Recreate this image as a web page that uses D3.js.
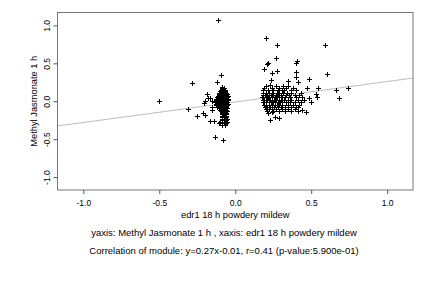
<!DOCTYPE html>
<html><head><meta charset="utf-8">
<script src="https://cdn.jsdelivr.net/npm/d3@7"></script>
<style>body{margin:0;background:#fff}svg{display:block}text{font-family:"Liberation Sans",Arial,sans-serif;fill:#000}</style>
</head><body><div id="c"></div>
<script>
const xTicks=[-1.0,-0.5,0.0,0.5,1.0];
const yTicks=[-1.0,-0.5,0.0,0.5,1.0];
const tickLabels=["-1.0","-0.5","0.0","0.5","1.0"];
const fitSlope=0.27, fitIntercept=-0.01;
const xLabel="edr1 18 h powdery mildew";
const yLabel="Methyl Jasmonate 1 h";
const caption1="yaxis: Methyl Jasmonate 1 h , xaxis: edr1 18 h powdery mildew";
const caption2="Correlation of module: y=0.27x-0.01, r=0.41 (p-value:5.900e-01)";

// cluster near x≈-0.08: rows [y, [x...]]
const cluster1Rows=[
[0.19,[-0.085]],[0.17,[-0.09,-0.075]],[0.15,[-0.095,-0.08,-0.07]],
[0.13,[-0.10,-0.085,-0.075,-0.065]],[0.11,[-0.105,-0.09,-0.08,-0.07,-0.06]],
[0.09,[-0.11,-0.095,-0.085,-0.075,-0.065,-0.055]],
[0.07,[-0.115,-0.10,-0.09,-0.08,-0.07,-0.06,-0.05]],
[0.05,[-0.12,-0.105,-0.095,-0.085,-0.075,-0.065,-0.055]],
[0.03,[-0.125,-0.11,-0.10,-0.09,-0.08,-0.07,-0.06,-0.05]],
[0.01,[-0.13,-0.115,-0.10,-0.09,-0.08,-0.07,-0.06,-0.05]],
[-0.01,[-0.135,-0.12,-0.105,-0.095,-0.085,-0.075,-0.065,-0.055]],
[-0.03,[-0.13,-0.115,-0.10,-0.09,-0.08,-0.07,-0.06,-0.05]],
[-0.05,[-0.125,-0.11,-0.095,-0.085,-0.075,-0.065,-0.055]],
[-0.07,[-0.12,-0.105,-0.09,-0.08,-0.07,-0.06]],
[-0.09,[-0.11,-0.095,-0.085,-0.075,-0.065,-0.055]],
[-0.11,[-0.10,-0.09,-0.08,-0.07,-0.06]],
[-0.13,[-0.095,-0.085,-0.075,-0.065,-0.055]],
[-0.15,[-0.09,-0.08,-0.07,-0.06]],[-0.17,[-0.09,-0.075,-0.06]],
[-0.19,[-0.085,-0.07,-0.06]],[-0.21,[-0.09,-0.075,-0.06]],
[-0.23,[-0.085,-0.07,-0.055]],[-0.25,[-0.09,-0.075,-0.06]],
[-0.27,[-0.10,-0.085,-0.07,-0.055]],[-0.29,[-0.11,-0.09,-0.075,-0.06]],
[-0.31,[-0.085,-0.065]]
];
// cluster near x≈0.28
const cluster2Rows=[
[0.20,[0.205,0.27,0.315,0.35]],[0.175,[0.19,0.245,0.29,0.335,0.38]],
[0.145,[0.18,0.215,0.25,0.28,0.305,0.32,0.365,0.40]],
[0.115,[0.185,0.20,0.225,0.24,0.275,0.29,0.315,0.34,0.37,0.43]],
[0.085,[0.18,0.195,0.21,0.235,0.25,0.265,0.28,0.30,0.335,0.355,0.39,0.42]],
[0.055,[0.175,0.20,0.215,0.225,0.24,0.26,0.275,0.29,0.31,0.33,0.36,0.40,0.44]],
[0.02,[0.18,0.19,0.21,0.23,0.245,0.255,0.27,0.285,0.30,0.32,0.345,0.37,0.41,0.45]],
[-0.01,[0.185,0.20,0.22,0.235,0.25,0.26,0.28,0.295,0.31,0.335,0.36,0.39,0.43]],
[-0.045,[0.19,0.205,0.22,0.24,0.26,0.275,0.29,0.31,0.345,0.38,0.42]],
[-0.075,[0.195,0.21,0.23,0.255,0.28,0.30,0.33,0.37,0.41]],
[-0.10,[0.20,0.225,0.24,0.27,0.31,0.35,0.39]],
[-0.13,[0.21,0.25,0.29,0.33,0.37]]
];
const outlierX=[-0.50,-0.285,-0.31,-0.25,-0.21,-0.196,-0.185,-0.168,-0.178,-0.20,-0.205,-0.168,-0.14,-0.133,-0.08,-0.113,-0.095,-0.117,-0.155,-0.155,-0.15,
0.20,0.273,0.59,0.266,0.216,0.207,0.409,0.40,0.192,0.275,0.242,0.398,0.40,0.604,0.486,0.345,0.413,0.234,0.23,0.47,0.545,0.66,0.74,0.683,0.53,0.536,0.50,0.486,0.44,0.464,0.398,0.413,0.229,0.262,0.289,0.216,0.24];
const outlierY=[0.00,0.24,-0.10,-0.20,-0.15,-0.18,0.09,0.046,0.04,0.00,-0.02,-0.26,-0.26,-0.47,-0.51,1.07,0.345,0.25,0.00,-0.08,-0.12,
0.84,0.74,0.74,0.57,0.51,0.49,0.53,0.51,0.425,0.40,0.37,0.385,0.32,0.36,0.29,0.27,0.25,0.28,0.21,0.18,0.18,0.15,0.17,0.04,0.10,0.05,-0.015,0.046,-0.115,-0.14,-0.07,-0.13,-0.25,-0.205,-0.225,-0.16,-0.147];

const points=[];
[cluster1Rows,cluster2Rows].forEach(rows=>rows.forEach(([y,xs])=>xs.forEach(x=>points.push([x,y]))));
outlierX.forEach((x,i)=>points.push([x,outlierY[i]]));

const W=432,H=288;
const L=57.5,R=413,T=12.5,B=190;
const svg=d3.select("#c").append("svg").attr("width",W).attr("height",H);
const x=d3.scaleLinear().domain([-1.17,1.17]).range([L,R]);
const y=d3.scaleLinear().domain([-1.17,1.17]).range([B,T]);

// fit line
const xd=x.domain();
svg.append("line").attr("x1",x(xd[0])).attr("x2",x(xd[1]))
 .attr("y1",y(fitSlope*xd[0]+fitIntercept)).attr("y2",y(fitSlope*xd[1]+fitIntercept))
 .attr("stroke","#bdbdbd").attr("stroke-width",1);

// points
svg.append("g").selectAll("path").data(points).join("path")
 .attr("d",d=>{const px=Math.round(x(d[0]))+0.5,py=Math.round(y(d[1]))+0.5;return `M${px-2.5},${py}H${px+2.5}M${px},${py-2.5}V${py+2.5}`;})
 .attr("stroke","#000").attr("stroke-width",1).attr("fill","none");

// frame
svg.append("rect").attr("x",L).attr("y",T).attr("width",R-L).attr("height",B-T)
 .attr("fill","none").attr("stroke","#777").attr("stroke-width",1);

// axes
const fmt=(d,i)=>tickLabels[i];
const xa=svg.append("g").attr("transform",`translate(0,${B})`)
 .call(d3.axisBottom(x).tickValues(xTicks).tickSize(4).tickPadding(6).tickFormat(fmt));
xa.select(".domain").remove();
xa.selectAll("line").attr("stroke","#555");
xa.selectAll("text").attr("font-size","8.5px").attr("font-family","Liberation Sans, Arial, sans-serif");
const ya=svg.append("g").attr("transform",`translate(${L},0)`)
 .call(d3.axisLeft(y).tickValues(yTicks).tickSize(4).tickFormat(fmt));
ya.select(".domain").remove();
ya.selectAll("line").attr("stroke","#555");
ya.selectAll("text").attr("font-size","8.5px").attr("font-family","Liberation Sans, Arial, sans-serif")
 .attr("x",null).attr("dy",null).attr("text-anchor","middle")
 .attr("transform","translate(-8,0) rotate(-90)").attr("dy","0");

const fs="9.3px";
svg.append("text").attr("x",(L+R)/2).attr("y",217.5).attr("text-anchor","middle").attr("font-size",fs).text(xLabel);
svg.append("text").attr("transform",`translate(36.5,${(T+B)/2}) rotate(-90)`).attr("text-anchor","middle").attr("font-size",fs).text(yLabel);
svg.append("text").attr("x",224).attr("y",235.5).attr("text-anchor","middle").attr("font-size","9.5px").text(caption1);
svg.append("text").attr("x",224).attr("y",254).attr("text-anchor","middle").attr("font-size","9.5px").text(caption2);
</script></body></html>
